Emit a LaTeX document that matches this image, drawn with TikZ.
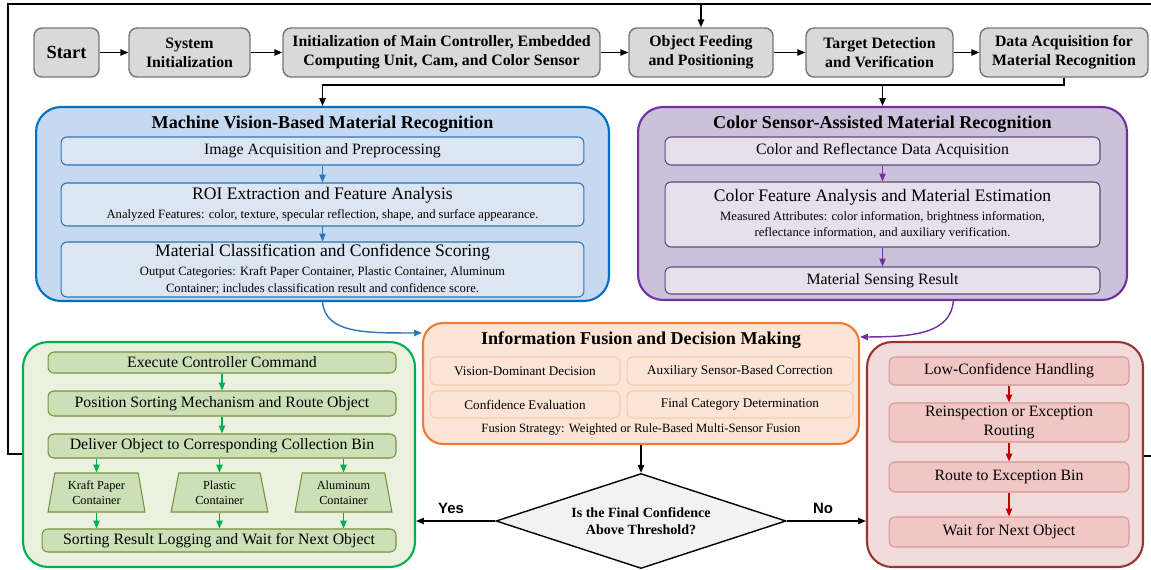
\documentclass[tikz,border=0pt]{standalone}
\usepackage{fontspec}
\setmainfont{Liberation Serif}
\newfontfamily\yesnofont{Liberation Sans}
\usetikzlibrary{arrows.meta,shapes.geometric}

\definecolor{topfill}{RGB}{217,217,217}
\definecolor{topline}{RGB}{118,118,118}
\definecolor{visfill}{RGB}{197,217,240}
\definecolor{visline}{RGB}{0,112,192}
\definecolor{visin}{RGB}{220,230,242}
\definecolor{visinline}{RGB}{46,117,182}
\definecolor{senfill}{RGB}{204,193,218}
\definecolor{senline}{RGB}{112,48,160}
\definecolor{senin}{RGB}{229,224,236}
\definecolor{seninline}{RGB}{96,74,123}
\definecolor{fusfill}{RGB}{252,228,214}
\definecolor{fusline}{RGB}{237,125,49}
\definecolor{fusinline}{RGB}{248,203,173}
\definecolor{sortfill}{RGB}{235,241,222}
\definecolor{sortline}{RGB}{0,176,80}
\definecolor{sortin}{RGB}{204,224,184}
\definecolor{sortinline}{RGB}{118,146,60}
\definecolor{excfill}{RGB}{242,220,219}
\definecolor{excline}{RGB}{150,54,52}
\definecolor{excin}{RGB}{240,199,197}
\definecolor{excinline}{RGB}{217,150,148}
\definecolor{excarrow}{RGB}{192,0,0}
\definecolor{decfill}{RGB}{242,242,242}

\newcommand{\subttl}[1]{{\fontsize{10}{12}\selectfont #1}}

\tikzset{
    topbox/.style={draw=topline, fill=topfill, line width=0.8pt, rounded corners=0.16cm,
        align=center, inner sep=0pt, minimum height=0.98cm,
        font=\fontsize{9}{10.8}\selectfont\bfseries},
    group/.style={line width=1.2pt, rounded corners=0.5cm, inner sep=0pt},
    ttl/.style={inner sep=0pt, font=\fontsize{10.3}{12}\selectfont\bfseries},
    inbox/.style={line width=0.6pt, rounded corners=0.12cm, align=center, inner sep=0pt,
        font=\fontsize{9}{10.8}\selectfont},
    detail/.style={inbox, font=\fontsize{7.2}{9.6}\selectfont},
    visbox/.style={inbox, draw=visinline, fill=visin, minimum width=10.46cm},
    senbox/.style={inbox, draw=seninline, fill=senin, minimum width=8.70cm},
    fusbox/.style={inbox, draw=fusinline, fill=fusfill, font=\fontsize{7.5}{9}\selectfont},
    sortbox/.style={inbox, draw=sortinline, fill=sortin, minimum width=6.96cm},
    bin/.style={trapezium, trapezium stretches=true, trapezium left angle=79,
        trapezium right angle=79, draw=sortinline, fill=sortin, line width=0.6pt,
        align=center, inner sep=0pt, minimum width=1.94cm, minimum height=0.78cm,
        font=\fontsize{7}{8.5}\selectfont},
    excbox/.style={inbox, draw=excinline, fill=excin, minimum width=4.80cm},
    decision/.style={diamond, aspect=3, draw, fill=decfill, line width=0.8pt, inner sep=0pt,
        minimum width=5.80cm, minimum height=1.90cm, align=center,
        font=\fontsize{8}{9.6}\selectfont\bfseries},
    yn/.style={inner sep=0pt, font=\yesnofont\fontsize{8.5}{10}\selectfont\bfseries},
    tip/.style={-{Triangle[length=4.5pt,width=3.6pt]}},
    flow/.style={tip, line width=0.8pt},
    line/.style={line width=0.8pt},
}

\begin{document}
\begin{tikzpicture}[x=0.02cm, y=-0.02cm]
    \useasboundingbox (0,0) rectangle (1151,569);

    % Top row
    \node [topbox, minimum width=1.30cm, font=\fontsize{10.5}{12}\selectfont\bfseries] (start) at (66.5,52.5) {Start};
    \node [topbox, minimum width=2.42cm] (sysinit) at (189.5,52.5) {System\\Initialization};
    \node [topbox, minimum width=6.34cm] (ctrlinit) at (441.5,52.5) {Initialization of Main Controller, Embedded\\Computing Unit, Cam, and Color Sensor};
    \node [topbox, minimum width=2.88cm] (feed) at (701,52.5) {Object Feeding\\and Positioning};
    \node [topbox, minimum width=2.94cm] (detect) at (879.5,52.5) {Target Detection\\and Verification};
    \node [topbox, minimum width=3.36cm] (acquire) at (1064,52.5) {Data Acquisition for\\Material Recognition};
    \draw [flow] (start) -- (sysinit);
    \draw [flow] (sysinit) -- (ctrlinit);
    \draw [flow] (ctrlinit) -- (feed);
    \draw [flow] (feed) -- (detect);
    \draw [flow] (detect) -- (acquire);

    % Vision branch
    \node [group, draw=visline, fill=visfill, minimum width=11.46cm, minimum height=3.88cm] (vision) at (322.5,204) {};
    \node [ttl] (visionttl) at (322.5,124) {Machine Vision-Based Material Recognition};
    \node [visbox, minimum height=0.56cm] (imgacq) at (322.5,151) {Image Acquisition and Preprocessing};
    \node [visbox, detail, minimum height=0.86cm] (roi) at (322.5,204.5) {\subttl{ROI Extraction and Feature Analysis}\\[1pt]Analyzed Features: color, texture, specular reflection, shape, and surface appearance.};
    \node [visbox, detail, minimum height=1.10cm] (classify) at (322.5,269.5) {\subttl{Material Classification and Confidence Scoring}\\[1pt]Output Categories: Kraft Paper Container, Plastic Container, Aluminum\\Container; includes classification result and confidence score.};
    \draw [flow, visinline, line width=0.6pt] (imgacq) -- (roi);
    \draw [flow, visinline, line width=0.6pt] (roi) -- (classify);

    % Color sensor branch
    \node [group, draw=senline, fill=senfill, minimum width=9.78cm, minimum height=3.86cm] (sensor) at (882.5,203.5) {};
    \node [ttl] (sensorttl) at (882.5,124) {Color Sensor-Assisted Material Recognition};
    \node [senbox, minimum height=0.56cm] (colacq) at (882.5,151) {Color and Reflectance Data Acquisition};
    \node [senbox, detail, minimum height=1.30cm] (colfeat) at (882.5,214.5) {\subttl{Color Feature Analysis and Material Estimation}\\[1pt]Measured Attributes: color information, brightness information,\\reflectance information, and auxiliary verification.};
    \node [senbox, minimum height=0.54cm] (sensing) at (882.5,280.5) {Material Sensing Result};
    \draw [flow, senline, line width=0.6pt] (colacq) -- (colfeat);
    \draw [flow, senline, line width=0.6pt] (colfeat) -- (sensing);

    \coordinate (bus) at (0,85);
    \draw [flow] (acquire.south) -- (acquire.south |- bus) -| (vision.north);
    \draw [flow] (sensor.north |- bus) -- (sensor.north);

    % Fusion
    \node [group, rounded corners=0.4cm, draw=fusline, fill=fusfill, minimum width=8.72cm, minimum height=2.42cm] (fusion) at (641,383.5) {};
    \node [ttl] (fusionttl) at (641,340) {Information Fusion and Decision Making};
    \node [fusbox, minimum width=3.80cm, minimum height=0.56cm] (dominant) at (525,371) {Vision-Dominant Decision};
    \node [fusbox, minimum width=4.52cm, minimum height=0.56cm] (correct) at (740,371) {Auxiliary Sensor-Based Correction};
    \node [fusbox, minimum width=3.80cm, minimum height=0.54cm] (evaluate) at (525,404.5) {Confidence Evaluation};
    \node [fusbox, minimum width=4.52cm, minimum height=0.54cm] (category) at (740,404.5) {Final Category Determination};
    \node [inner sep=0pt, font=\fontsize{7.2}{9}\selectfont] (strategy) at (641,429) {Fusion Strategy: Weighted or Rule-Based Multi-Sensor Fusion};
    \draw [tip, visinline, line width=0.8pt] (vision.south) .. controls +(3,32) and +(-55,0) .. (fusion.167);
    \draw [tip, senline, line width=0.8pt] (sensor.-54) .. controls +(-3,32) and +(55,0) .. (fusion.12);

    % Decision
    \node [decision] (check) at (641,521) {Is the Final Confidence\\Above Threshold?};
    \draw [flow] (fusion.south) -- (check.north);

    % Sorting branch
    \node [group, draw=sortline, fill=sortfill, minimum width=7.84cm, minimum height=4.50cm] (sorting) at (219,454.5) {};
    \node [sortbox, minimum height=0.42cm] (execute) at (222,362.5) {Execute Controller Command};
    \node [sortbox, minimum height=0.50cm] (position) at (222,403.5) {Position Sorting Mechanism and Route Object};
    \node [sortbox, minimum height=0.48cm] (deliver) at (222,446) {Deliver Object to Corresponding Collection Bin};
    \node [bin] (kraft) at (96.5,492.5) {Kraft Paper\\Container};
    \node [bin] (plastic) at (219.5,492.5) {Plastic\\Container};
    \node [bin] (alum) at (343.5,492.5) {Aluminum\\Container};
    \node [sortbox, minimum width=7.08cm, minimum height=0.46cm] (logging) at (219,540.5) {Sorting Result Logging and Wait for Next Object};
    \draw [flow, sortline] (execute) -- (position);
    \draw [flow, sortline] (position) -- (deliver);
    \draw [flow, sortline] (kraft.north |- deliver.south) -- (kraft.north);
    \draw [flow, sortline] (plastic.north |- deliver.south) -- (plastic.north);
    \draw [flow, sortline] (alum.north |- deliver.south) -- (alum.north);
    \draw [flow, sortline] (kraft.south) -- (kraft.south |- logging.north);
    \draw [flow, sortline] (plastic.south) -- (plastic.south |- logging.north);
    \draw [flow, sortline] (alum.south) -- (alum.south |- logging.north);

    % Exception branch
    \node [group, draw=excline, fill=excfill, minimum width=5.52cm, minimum height=4.50cm] (exception) at (1005,454.5) {};
    \node [excbox, minimum height=0.56cm] (lowconf) at (1009,371) {Low-Confidence Handling};
    \node [excbox, minimum height=0.78cm] (reinspect) at (1009,422.5) {Reinspection or Exception\\Routing};
    \node [excbox, minimum height=0.60cm] (exbin) at (1009,477) {Route to Exception Bin};
    \node [excbox, minimum height=0.60cm] (waitnext) at (1009,532) {Wait for Next Object};
    \draw [flow, excarrow] (lowconf) -- (reinspect);
    \draw [flow, excarrow] (reinspect) -- (exbin);
    \draw [flow, excarrow] (exbin) -- (waitnext);

    % Yes / No
    \draw [flow] (check.west) -- (sorting.east |- check.west);
    \draw [flow] (check.east) -- (exception.west |- check.east);
    \node [yn] (yes) at (451,508) {Yes};
    \node [yn] (no) at (823,508) {No};

    % Loop back to feeding
    \coordinate (loopl) at (8,4);
    \coordinate (loopr) at (1165,4);
    \coordinate (backl) at (8,454);
    \coordinate (backr) at (1165,456);
    \draw [flow] (sorting.west |- backl) -- (backl) -- (loopl) -| (feed.north);
    \draw [line] (exception.east |- backr) -- (backr) -- (loopr) -- (loopl);

\end{tikzpicture}
\end{document}
